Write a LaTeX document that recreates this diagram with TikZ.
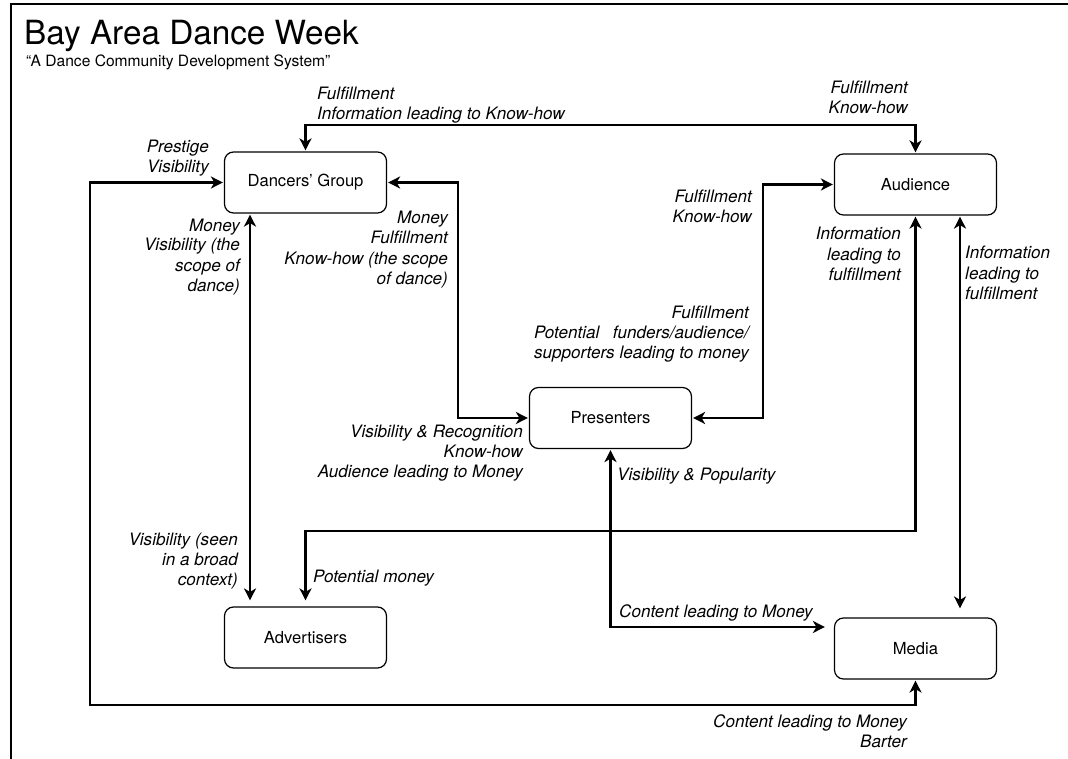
\documentclass[tikz,border=0pt]{standalone}
\usepackage{fontspec}
\setmainfont{TeX Gyre Heros}
\usepackage{calc}
\usetikzlibrary{arrows.meta}
\begin{document}
\begin{tikzpicture}[x=1pt,y=-1pt,
  >={Stealth[length=12pt,width=12pt,inset=3.5pt]},
  box/.style={draw, line width=1.2pt, rounded corners=9pt, minimum width=162pt, minimum height=61pt, font=\fontsize{16.6}{20}\selectfont, inner sep=0pt},
  conn/.style={line width=2.8pt, <->, shorten <=1pt, shorten >=1pt},
  lab/.style={font=\fontsize{17.1}{20}\selectfont\itshape, inner sep=0pt},
  labl/.style={lab, anchor=base west, align=left},
  labr/.style={lab, anchor=base east, align=right}]
\useasboundingbox (0,0) rectangle (1068,759);
% frame
\draw[line width=1.8pt] (11,759) -- (11,4) -- (1068,4);
% title
\node[anchor=base west, font=\fontsize{33.3}{36}\selectfont, inner sep=0pt] (title) at (24,45) {Bay Area Dance Week};
\node[anchor=base west, font=\fontsize{15.6}{18}\selectfont, inner sep=0pt] (sub) at (26,67) {“A Dance Community Development System”};
% boxes
\node[box] (dg) at (305.5,182.5) {Dancers’ Group};
\node[box] (au) at (915.5,184.5) {Audience};
\node[box] (pr) at (610.5,418) {Presenters};
\node[box] (ad) at (305.5,637.5) {Advertisers};
\node[box] (me) at (915.5,648.5) {Media};
% connectors
\draw[conn] (dg.north) -- (dg.north |- 0,125) -| (au.north);
\draw[conn] (dg.west) -| (90,705) -| (me.south);
\draw[conn] (dg.east) -- (dg.east -| 458,0) |- (pr.west);
\draw[conn] (pr.east) -- (pr.east -| 763,0) |- (au.west);
\draw[conn, shorten >=6pt] (dg.south -| 250,0) -- (ad.north -| 250,0);
\draw[conn, shorten >=6pt] (au.south) -- (au.south |- 0,531) -| (ad.north);
\draw[conn, shorten >=9pt] (pr.south) -- (pr.south |- 0,627) -- (me.west |- 0,627);
\draw[conn, shorten >=9pt] (au.south -| 960,0) -- (me.north -| 960,0);
% labels (anchor = baseline of last line)
\node[labl] (l1) at (317,120) {Fulfillment\\Information leading to Know-how};
\node[labr] (l2) at (908,114) {Fulfillment\\Know-how};
\node[labr] (l3) at (209,173) {Prestige\\Visibility};
\node[labr] (l4) at (448,284) {Money\\Fulfillment\\Know-how (the scope\\of dance)};
\node[labr] (l5) at (240,291) {Money\\Visibility (the\\scope of\\dance)};
\node[labr] (l6) at (752,223) {Fulfillment\\Know-how};
\node[labr] (l7) at (901,280) {Information\\leading to\\fulfillment};
\node[labl] (l8) at (965,299) {Information\\leading to\\fulfillment};
\node[labr] (l9) at (749,358) {Fulfillment\\\makebox[\widthof{supporters leading to money}][s]{Potential funders/audience/}\\supporters leading to money};
\node[labr] (l10) at (523,477) {Visibility \& Recognition\\Know-how\\Audience leading to Money};
\node[labl] (l11) at (617,480) {Visibility \& Popularity};
\node[labr] (l12) at (238,585) {Visibility (seen\\in a broad\\context)};
\node[labl] (l13) at (313,582) {Potential money};
\node[labl] (l14) at (619,617) {Content leading to Money};
\node[labr] (l15) at (907,747) {Content leading to Money\\Barter};
\end{tikzpicture}
\end{document}
